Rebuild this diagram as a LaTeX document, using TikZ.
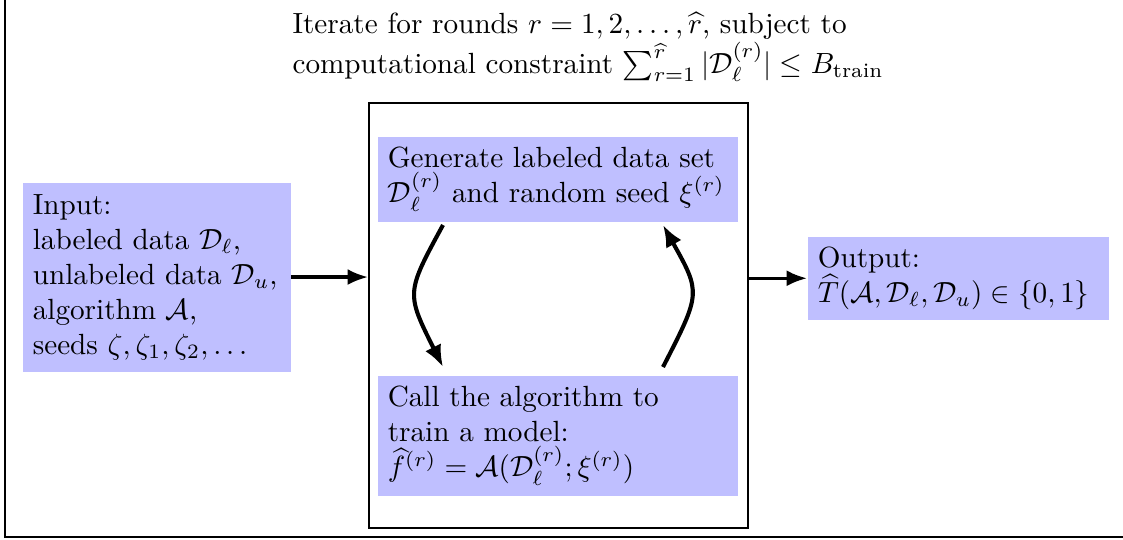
\documentclass[tikz,border=0pt]{standalone}
\usepackage{amsmath}
\usetikzlibrary{arrows.meta}
\definecolor{boxblue}{RGB}{191,191,255}
\tikzset{
  bluebox/.style={fill=boxblue, inner sep=3.5pt, align=left, anchor=north west},
  conn/.style={line width=1.1pt, -{Latex[length=7pt,width=5.5pt]}},
  curvy/.style={line width=1.4pt, -{Latex[length=7.5pt,width=6pt]}}
}
\begin{document}
\begin{tikzpicture}[x=0.3425pt,y=-0.3425pt]
\useasboundingbox (0,0) rectangle (1123,539);
% outer frame (left and bottom visible)
\draw[line width=1pt] (5,-10) -- (5,537) -- (1133,537);
% title
\node[align=left, anchor=north west, inner sep=0pt] (title) at (292,12)
  {Iterate for rounds $r=1,2,\ldots,\widehat{r}$, subject to\\
   computational constraint $\sum_{r=1}^{\widehat{r}}|\mathcal{D}_\ell^{(r)}|\le B_{\text{train}}$};
% loop box
\node[draw, line width=0.6pt, minimum width=129.8pt, minimum height=145.5pt, anchor=north west, inner sep=0pt] (loop) at (368,102) {};
% generate node
\node[bluebox, minimum width=123.3pt, minimum height=29.1pt, text width=116.3pt] (gen) at (377,136)
  {Generate labeled data set\\ $\mathcal{D}_\ell^{(r)}$ and random seed $\xi^{(r)}$};
% call node
\node[bluebox, minimum width=123.3pt, minimum height=41.4pt, text width=116.3pt] (call) at (377,375)
  {Call the algorithm to\\ train a model:\\ $\widehat{f}^{(r)}=\mathcal{A}(\mathcal{D}_\ell^{(r)};\xi^{(r)})$};
% input node
\node[bluebox, minimum width=91.8pt, minimum height=64.7pt, text width=84.8pt] (input) at (22,182)
  {Input:\\ labeled data $\mathcal{D}_\ell$,\\ unlabeled data $\mathcal{D}_u$,\\ algorithm $\mathcal{A}$,\\ seeds $\zeta,\zeta_1,\zeta_2,\ldots$};
% output node
\node[bluebox, minimum width=103.1pt, minimum height=28.1pt, text width=96.1pt] (output) at (807,236)
  {Output:\\ $\widehat{T}(\mathcal{A},\mathcal{D}_\ell,\mathcal{D}_u)\in\{0,1\}$};
% connectors
\draw[conn] (input.east) -- (input.east -| loop.west);
\draw[conn] (loop.east |- output.west) -- (output.west);
\coordinate (g1) at (443,225);
\coordinate (c1) at (443,367);
\coordinate (c2) at (663,367);
\coordinate (g2) at (663,225);
\draw[curvy] (g1) .. controls (406,293) .. (c1);
\draw[curvy] (c2) .. controls (701,293) .. (g2);
\end{tikzpicture}
\end{document}
